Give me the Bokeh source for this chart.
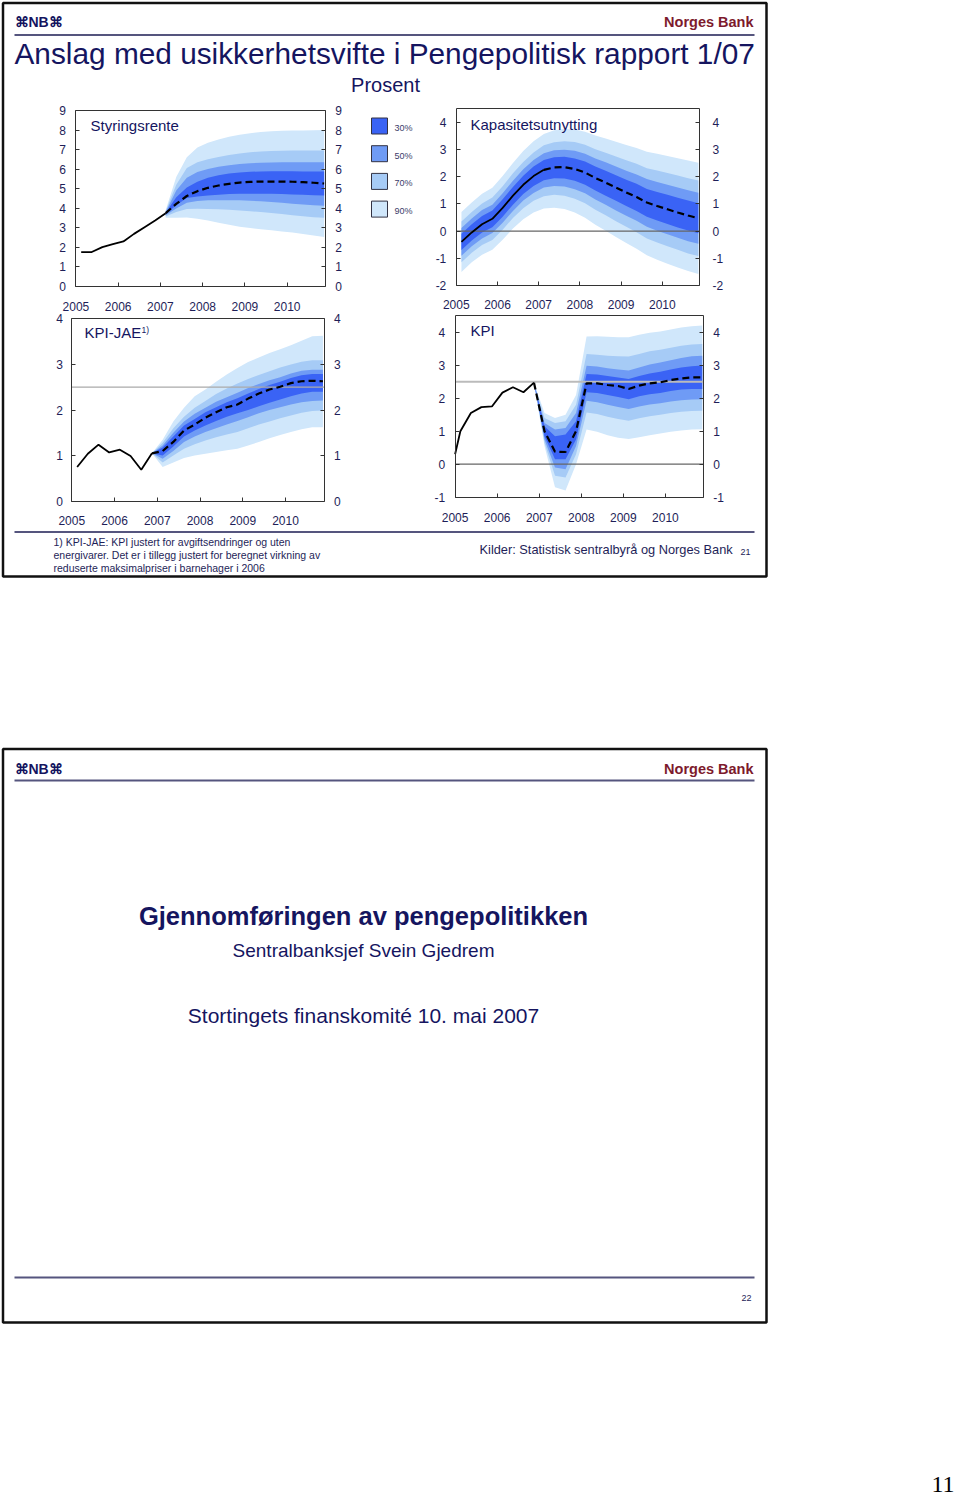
from bokeh.plotting import figure
from bokeh.models import Range1d, LinearAxis, FixedTicker, PrintfTickFormatter, Label
from bokeh.embed import file_html
from bokeh.resources import INLINE

# ---------------- data ----------------
YEAR_TICKS = [2005, 2006, 2007, 2008, 2009, 2010]
X_MIN, X_MAX = 2005.0, 2010.9
BAND_LABELS = ["30%", "50%", "70%", "90%"]

# Styringsrente
rate_hist_t = [2005.125, 2005.375, 2005.625, 2005.875, 2006.125, 2006.375, 2006.625, 2006.875, 2007.125]
rate_hist = [1.75, 1.75, 2.0, 2.15, 2.29, 2.68, 3.02, 3.36, 3.74]
rate_t = [2007.125, 2007.375, 2007.625, 2007.875, 2008.125, 2008.375, 2008.625, 2008.875,
          2009.125, 2009.375, 2009.625, 2009.875, 2010.125, 2010.375, 2010.625, 2010.875]
rate_proj = [3.74, 4.22, 4.62, 4.87, 5.04, 5.16, 5.24, 5.31, 5.34, 5.36, 5.36, 5.36, 5.35, 5.33, 5.30, 5.26]
rate_90u = [3.90, 5.60, 6.60, 7.10, 7.35, 7.52, 7.65, 7.76, 7.84, 7.90, 7.94, 7.96, 7.97, 7.98, 7.99, 8.00]
rate_90l = [3.50, 3.50, 3.52, 3.45, 3.36, 3.25, 3.15, 3.05, 2.98, 2.92, 2.86, 2.80, 2.75, 2.68, 2.60, 2.52]
rate_70u = [3.85, 5.20, 6.05, 6.35, 6.50, 6.62, 6.72, 6.80, 6.86, 6.90, 6.92, 6.94, 6.95, 6.95, 6.95, 6.95]
rate_70l = [3.57, 3.80, 3.95, 3.97, 3.96, 3.94, 3.92, 3.88, 3.84, 3.80, 3.75, 3.70, 3.63, 3.58, 3.53, 3.50]
rate_50u = [3.80, 4.90, 5.55, 5.85, 6.00, 6.12, 6.20, 6.26, 6.30, 6.32, 6.34, 6.35, 6.35, 6.35, 6.35, 6.35]
rate_50l = [3.63, 3.98, 4.28, 4.37, 4.40, 4.40, 4.40, 4.40, 4.38, 4.35, 4.31, 4.27, 4.22, 4.18, 4.15, 4.12]
rate_30u = [3.78, 4.55, 5.05, 5.35, 5.55, 5.68, 5.77, 5.83, 5.86, 5.88, 5.89, 5.89, 5.89, 5.88, 5.88, 5.87]
rate_30l = [3.68, 4.15, 4.52, 4.60, 4.64, 4.68, 4.72, 4.73, 4.73, 4.73, 4.73, 4.72, 4.70, 4.68, 4.66, 4.64]

# KPI-JAE
jae_hist_t = [2005.125, 2005.375, 2005.625, 2005.875, 2006.125, 2006.375, 2006.625, 2006.875]
jae_hist = [0.75, 1.04, 1.24, 1.07, 1.13, 0.99, 0.69, 1.05]
jae_t = [2006.875, 2007.125, 2007.375, 2007.625, 2007.875, 2008.125, 2008.375, 2008.625, 2008.875,
         2009.125, 2009.375, 2009.625, 2009.875, 2010.125, 2010.375, 2010.625, 2010.875]
jae_proj = [1.05, 1.10, 1.30, 1.55, 1.68, 1.83, 1.95, 2.06, 2.12, 2.25, 2.36, 2.45, 2.51, 2.59, 2.63, 2.64, 2.63]
jae_90u = [1.05, 1.35, 1.75, 2.05, 2.30, 2.45, 2.62, 2.78, 2.92, 3.05, 3.15, 3.25, 3.33, 3.42, 3.52, 3.62, 3.63]
jae_90l = [1.05, 0.75, 0.85, 0.95, 1.00, 1.04, 1.08, 1.12, 1.15, 1.22, 1.30, 1.38, 1.45, 1.52, 1.58, 1.62, 1.62]
jae_70u = [1.05, 1.28, 1.60, 1.85, 2.05, 2.20, 2.35, 2.47, 2.58, 2.68, 2.77, 2.85, 2.93, 3.00, 3.06, 3.09, 3.09]
jae_70l = [1.05, 0.85, 1.00, 1.15, 1.25, 1.33, 1.40, 1.46, 1.52, 1.60, 1.68, 1.75, 1.82, 1.88, 1.94, 1.98, 1.99]
jae_50u = [1.05, 1.22, 1.50, 1.75, 1.92, 2.05, 2.18, 2.28, 2.38, 2.48, 2.57, 2.65, 2.72, 2.80, 2.86, 2.88, 2.88]
jae_50l = [1.05, 0.93, 1.10, 1.30, 1.42, 1.52, 1.60, 1.68, 1.76, 1.84, 1.93, 2.00, 2.06, 2.12, 2.17, 2.20, 2.21]
jae_30u = [1.05, 1.18, 1.42, 1.66, 1.80, 1.95, 2.06, 2.17, 2.26, 2.36, 2.46, 2.55, 2.62, 2.70, 2.76, 2.79, 2.79]
jae_30l = [1.05, 1.00, 1.20, 1.42, 1.55, 1.66, 1.76, 1.85, 1.93, 2.00, 2.08, 2.16, 2.23, 2.30, 2.36, 2.40, 2.40]
jae_ref = [2.5]

# Kapasitetsutnytting
gap_t = [2005.125, 2005.375, 2005.625, 2005.875, 2006.125, 2006.375, 2006.625, 2006.875,
         2007.125, 2007.375, 2007.625, 2007.875, 2008.125, 2008.375, 2008.625, 2008.875,
         2009.125, 2009.375, 2009.625, 2009.875, 2010.125, 2010.375, 2010.625, 2010.875]
gap_hist_t = gap_t[:9]
gap_hist = [-0.40, -0.05, 0.25, 0.45, 0.85, 1.30, 1.70, 2.02, 2.25]
gap_proj_t = gap_t[8:]
gap_proj = [2.25, 2.34, 2.35, 2.28, 2.15, 1.95, 1.78, 1.60, 1.42, 1.25, 1.05, 0.92, 0.80, 0.68, 0.57, 0.47]
gap_90u = [0.70, 1.05, 1.37, 1.59, 2.02, 2.50, 2.94, 3.30, 3.57, 3.70, 3.75, 3.73, 3.65, 3.51, 3.40, 3.28, 3.16, 3.05, 2.91, 2.84, 2.76, 2.68, 2.59, 2.51]
gap_90l = [-1.50, -1.15, -0.87, -0.69, -0.32, 0.09, 0.43, 0.68, 0.83, 0.86, 0.81, 0.68, 0.49, 0.23, 0.01, -0.22, -0.44, -0.65, -0.89, -1.05, -1.20, -1.34, -1.47, -1.58]
gap_70u = [0.35, 0.70, 1.01, 1.23, 1.65, 2.12, 2.54, 2.89, 3.15, 3.26, 3.30, 3.27, 3.17, 3.01, 2.88, 2.74, 2.60, 2.47, 2.31, 2.23, 2.13, 2.04, 1.94, 1.86]
gap_70l = [-1.15, -0.80, -0.51, -0.33, 0.05, 0.48, 0.84, 1.11, 1.28, 1.33, 1.30, 1.19, 1.02, 0.78, 0.58, 0.36, 0.16, -0.04, -0.27, -0.42, -0.56, -0.69, -0.82, -0.92]
gap_50u = [0.11, 0.46, 0.77, 0.97, 1.39, 1.85, 2.27, 2.61, 2.86, 2.97, 2.99, 2.95, 2.84, 2.67, 2.53, 2.37, 2.22, 2.08, 1.91, 1.80, 1.70, 1.60, 1.50, 1.41]
gap_50l = [-0.91, -0.56, -0.27, -0.07, 0.31, 0.74, 1.12, 1.40, 1.60, 1.66, 1.64, 1.54, 1.39, 1.16, 0.97, 0.76, 0.56, 0.38, 0.16, 0.01, -0.12, -0.25, -0.37, -0.47]
gap_30u = [-0.10, 0.25, 0.55, 0.76, 1.17, 1.62, 2.03, 2.37, 2.61, 2.71, 2.73, 2.67, 2.56, 2.37, 2.22, 2.05, 1.89, 1.74, 1.55, 1.44, 1.33, 1.22, 1.12, 1.02]
gap_30l = [-0.70, -0.35, -0.05, 0.14, 0.53, 0.97, 1.36, 1.66, 1.87, 1.94, 1.93, 1.85, 1.70, 1.49, 1.30, 1.11, 0.92, 0.74, 0.53, 0.39, 0.26, 0.13, 0.02, -0.08]
gap_ref = [0.0]

# KPI
kpi_hist_t = [2005.0, 2005.125, 2005.375, 2005.625, 2005.875, 2006.125, 2006.375, 2006.625, 2006.875]
kpi_hist = [0.30, 1.00, 1.55, 1.73, 1.75, 2.17, 2.33, 2.18, 2.47]
kpi_t = [2006.875, 2007.125, 2007.375, 2007.625, 2007.875, 2008.125, 2008.375, 2008.625, 2008.875,
         2009.125, 2009.375, 2009.625, 2009.875, 2010.125, 2010.375, 2010.625, 2010.875]
kpi_proj = [2.47, 1.00, 0.38, 0.37, 1.00, 2.45, 2.45, 2.40, 2.37, 2.28, 2.38, 2.45, 2.48, 2.55, 2.60, 2.63, 2.63]
kpi_90u = [2.47, 1.55, 1.40, 1.50, 2.10, 3.87, 3.88, 3.86, 3.85, 3.85, 3.92, 3.98, 4.02, 4.08, 4.14, 4.18, 4.20]
kpi_90l = [2.47, 0.55, -0.70, -0.80, 0.00, 1.05, 0.98, 0.88, 0.80, 0.76, 0.82, 0.88, 0.93, 0.98, 1.02, 1.05, 1.06]
kpi_70u = [2.47, 1.40, 1.25, 1.30, 1.80, 3.34, 3.32, 3.29, 3.27, 3.26, 3.34, 3.42, 3.47, 3.53, 3.59, 3.63, 3.64]
kpi_70l = [2.47, 0.65, -0.35, -0.40, 0.30, 1.57, 1.52, 1.44, 1.37, 1.32, 1.39, 1.45, 1.50, 1.55, 1.59, 1.61, 1.62]
kpi_50u = [2.47, 1.25, 1.05, 1.10, 1.55, 2.98, 2.96, 2.91, 2.87, 2.84, 2.93, 3.02, 3.08, 3.15, 3.22, 3.27, 3.29]
kpi_50l = [2.47, 0.75, -0.10, -0.15, 0.55, 1.92, 1.88, 1.80, 1.73, 1.67, 1.75, 1.81, 1.85, 1.90, 1.94, 1.96, 1.97]
kpi_30u = [2.47, 1.15, 0.85, 0.90, 1.30, 2.73, 2.72, 2.67, 2.63, 2.58, 2.67, 2.75, 2.80, 2.87, 2.93, 2.97, 2.99]
kpi_30l = [2.47, 0.85, 0.15, 0.15, 0.75, 2.18, 2.16, 2.10, 2.04, 1.97, 2.06, 2.12, 2.16, 2.22, 2.26, 2.28, 2.28]
kpi_ref_zero = [0.0]
kpi_ref_target = [2.5]

# ---------------- styles ----------------
NAVY = "#15155f"
TICKC = "#1e1e58"
AXC = "#333333"
RED = "#7d1a2c"
RULE = "#55557e"
C30, C50, C70, C90 = "#3a63f5", "#6f9bf5", "#a6cbf6", "#d0e7fb"
FONT = "Liberation Sans"

W, H = 958, 1498
p = figure(width=W, height=H, x_range=Range1d(0, W), y_range=Range1d(H, 0),
           output_backend="svg", toolbar_location=None, min_border=0,
           x_axis_location=None, y_axis_location=None, outline_line_color=None,
           background_fill_color="white", border_fill_color="white")
p.grid.visible = False

xr, yr = {}, {}
charts = {
    # name: (ymin, ymax, yticks, (X0, X1, Ybottom, Ytop), x_standoff, left_standoff, right_standoff)
    "rate": (0, 9, list(range(0, 10)), (75.4, 324.7, 285.7, 110.0), 16, 10, 10),
    "jae": (0, 4, list(range(0, 5)), (71.3, 323.5, 500.7, 318.3), 15, 9, 10),
    "gap": (-2, 4.5, list(range(-2, 5)), (455.8, 698.9, 285.0, 108.1), 14, 10, 13),
    "kpi": (-1, 4.5, list(range(-1, 5)), (454.6, 702.8, 496.7, 315.2), 16, 10, 10),
}
for name, (ymin, ymax, yt, (X0, X1, Yb, Yt), xs, ls, rs) in charts.items():
    kx = (X1 - X0) / (X_MAX - X_MIN)
    a = X_MIN - X0 / kx
    xr[name] = Range1d(a, a + W / kx)
    ky = (Yb - Yt) / (ymax - ymin)
    b = ymin - (H - Yb) / ky
    yr[name] = Range1d(b, b + H / ky)
p.extra_x_ranges = xr
p.extra_y_ranges = yr


def fan(name, t, bands):
    for (lo, hi), col in zip(bands, [C90, C70, C50, C30]):
        p.varea(x=t, y1=lo, y2=hi, fill_color=col, x_range_name=name, y_range_name=name)


def ref(name, vals, color, width):
    p.segment(x0=[X_MIN] * len(vals), x1=[X_MAX] * len(vals), y0=vals, y1=vals,
              line_color=color, line_width=width, x_range_name=name, y_range_name=name)


def lines(name, ht, hv, pt, pv):
    p.line(ht, hv, line_color="black", line_width=1.8, x_range_name=name, y_range_name=name)
    p.line(pt, pv, line_color="black", line_width=2.2, line_dash="7 4",
           x_range_name=name, y_range_name=name)


fan("rate", rate_t, [(rate_90l, rate_90u), (rate_70l, rate_70u), (rate_50l, rate_50u), (rate_30l, rate_30u)])
lines("rate", rate_hist_t, rate_hist, rate_t, rate_proj)

fan("jae", jae_t, [(jae_90l, jae_90u), (jae_70l, jae_70u), (jae_50l, jae_50u), (jae_30l, jae_30u)])
ref("jae", jae_ref, "#aaaaaa", 1.2)
lines("jae", jae_hist_t, jae_hist, jae_t, jae_proj)

fan("gap", gap_t, [(gap_90l, gap_90u), (gap_70l, gap_70u), (gap_50l, gap_50u), (gap_30l, gap_30u)])
ref("gap", gap_ref, "#666666", 1.2)
lines("gap", gap_hist_t, gap_hist, gap_proj_t, gap_proj)

fan("kpi", kpi_t, [(kpi_90l, kpi_90u), (kpi_70l, kpi_70u), (kpi_50l, kpi_50u), (kpi_30l, kpi_30u)])
ref("kpi", kpi_ref_zero, "#666666", 1.2)
ref("kpi", kpi_ref_target, "#bbbbbb", 2.0)
lines("kpi", kpi_hist_t, kpi_hist, kpi_t, kpi_proj)


def axis(name, loc, bounds, ticks, side, standoff):
    a = LinearAxis(x_range_name=name, y_range_name=name, fixed_location=loc, bounds=bounds,
                   ticker=FixedTicker(ticks=ticks, minor_ticks=[]), major_tick_in=4, major_tick_out=0,
                   minor_tick_line_color=None, axis_line_color=AXC, axis_line_width=1,
                   major_tick_line_color=AXC, major_label_standoff=standoff,
                   major_label_text_font=FONT, major_label_text_font_size="12px",
                   major_label_text_color=TICKC, formatter=PrintfTickFormatter(format="%d"))
    p.add_layout(a, side)


for name, (ymin, ymax, yt, box, xs, ls, rs) in charts.items():
    axis(name, X_MIN, (ymin, ymax), yt, "left", ls)
    axis(name, X_MAX, (ymin, ymax), yt, "right", rs)
    axis(name, ymin, (X_MIN, X_MAX), YEAR_TICKS, "below", xs)
    axis(name, ymax, (X_MIN, X_MAX), [], "above", 0)


def label(x, y, text, size, color=NAVY, align="left", baseline="middle", style="normal", font=FONT):
    p.add_layout(Label(x=x, y=y, text=text, text_font=font, text_font_size=f"{size}px",
                       text_color=color, text_align=align, text_baseline=baseline,
                       text_font_style=style))


# ---- slide frames and rules ----
p.quad(left=[2.5, 2.5], right=[766, 766], top=[2.5, 748.5], bottom=[576, 1322],
       fill_color=None, line_color="#111111", line_width=2.5)
p.segment(x0=[14, 14, 14, 14], x1=[754, 754, 754, 754], y0=[34.5, 531.5, 780, 1277],
          y1=[34.5, 531.5, 780, 1277], line_color=RULE, line_width=2)

# ---- slide 1 texts ----
label(14, 21, "⌘NB⌘", 14, NAVY, style="bold")
label(753, 21, "Norges Bank", 14.5, RED, align="right", style="bold")
label(14, 53, "Anslag med usikkerhetsvifte i Pengepolitisk rapport 1/07", 29.8, NAVY)
label(385, 84, "Prosent", 20, NAVY, align="center")
label(90, 125, "Styringsrente", 15, NAVY)
label(470, 124, "Kapasitetsutnytting", 15, NAVY)
label(84, 332, "KPI-JAE", 15, NAVY)
label(141, 329, "1)", 8.5, NAVY)
label(470, 330, "KPI", 15, NAVY)

# legend
LEG_X, LEG_Y0, LEG_DY = 379, 125.5, 27.7
leg_cols = [C30, C50, C70, C90]
p.rect(x=[LEG_X] * 4, y=[LEG_Y0 + i * LEG_DY for i in range(4)], width=16, height=16,
       fill_color=leg_cols, line_color="#333344", line_width=1)
for i, lab in enumerate(BAND_LABELS):
    label(394, LEG_Y0 + i * LEG_DY + 2, lab, 9, "#3c3c6a")

label(53, 541, "1) KPI-JAE: KPI justert for avgiftsendringer og uten", 10.5, TICKC)
label(53, 554, "energivarer. Det er i tillegg justert for beregnet virkning av", 10.5, TICKC)
label(53, 567, "reduserte maksimalpriser i barnehager i 2006", 10.5, TICKC)
label(479, 549, "Kilder: Statistisk sentralbyrå og Norges Bank", 12.8, TICKC)
label(745, 551, "21", 9, TICKC, align="center")

# ---- slide 2 texts ----
label(14, 768, "⌘NB⌘", 14, NAVY, style="bold")
label(753, 768, "Norges Bank", 14.5, RED, align="right", style="bold")
label(363, 915, "Gjennomføringen av pengepolitikken", 25.5, NAVY, align="center", style="bold")
label(363, 950, "Sentralbanksjef Svein Gjedrem", 19, NAVY, align="center")
label(363, 1015, "Stortingets finanskomité 10. mai 2007", 21, NAVY, align="center")
label(746, 1297, "22", 9, TICKC, align="center")

# page number
label(954, 1484, "11", 24, "#000000", align="right", baseline="middle", font="Liberation Serif")

open("out.html", "w").write(file_html(p, INLINE))
